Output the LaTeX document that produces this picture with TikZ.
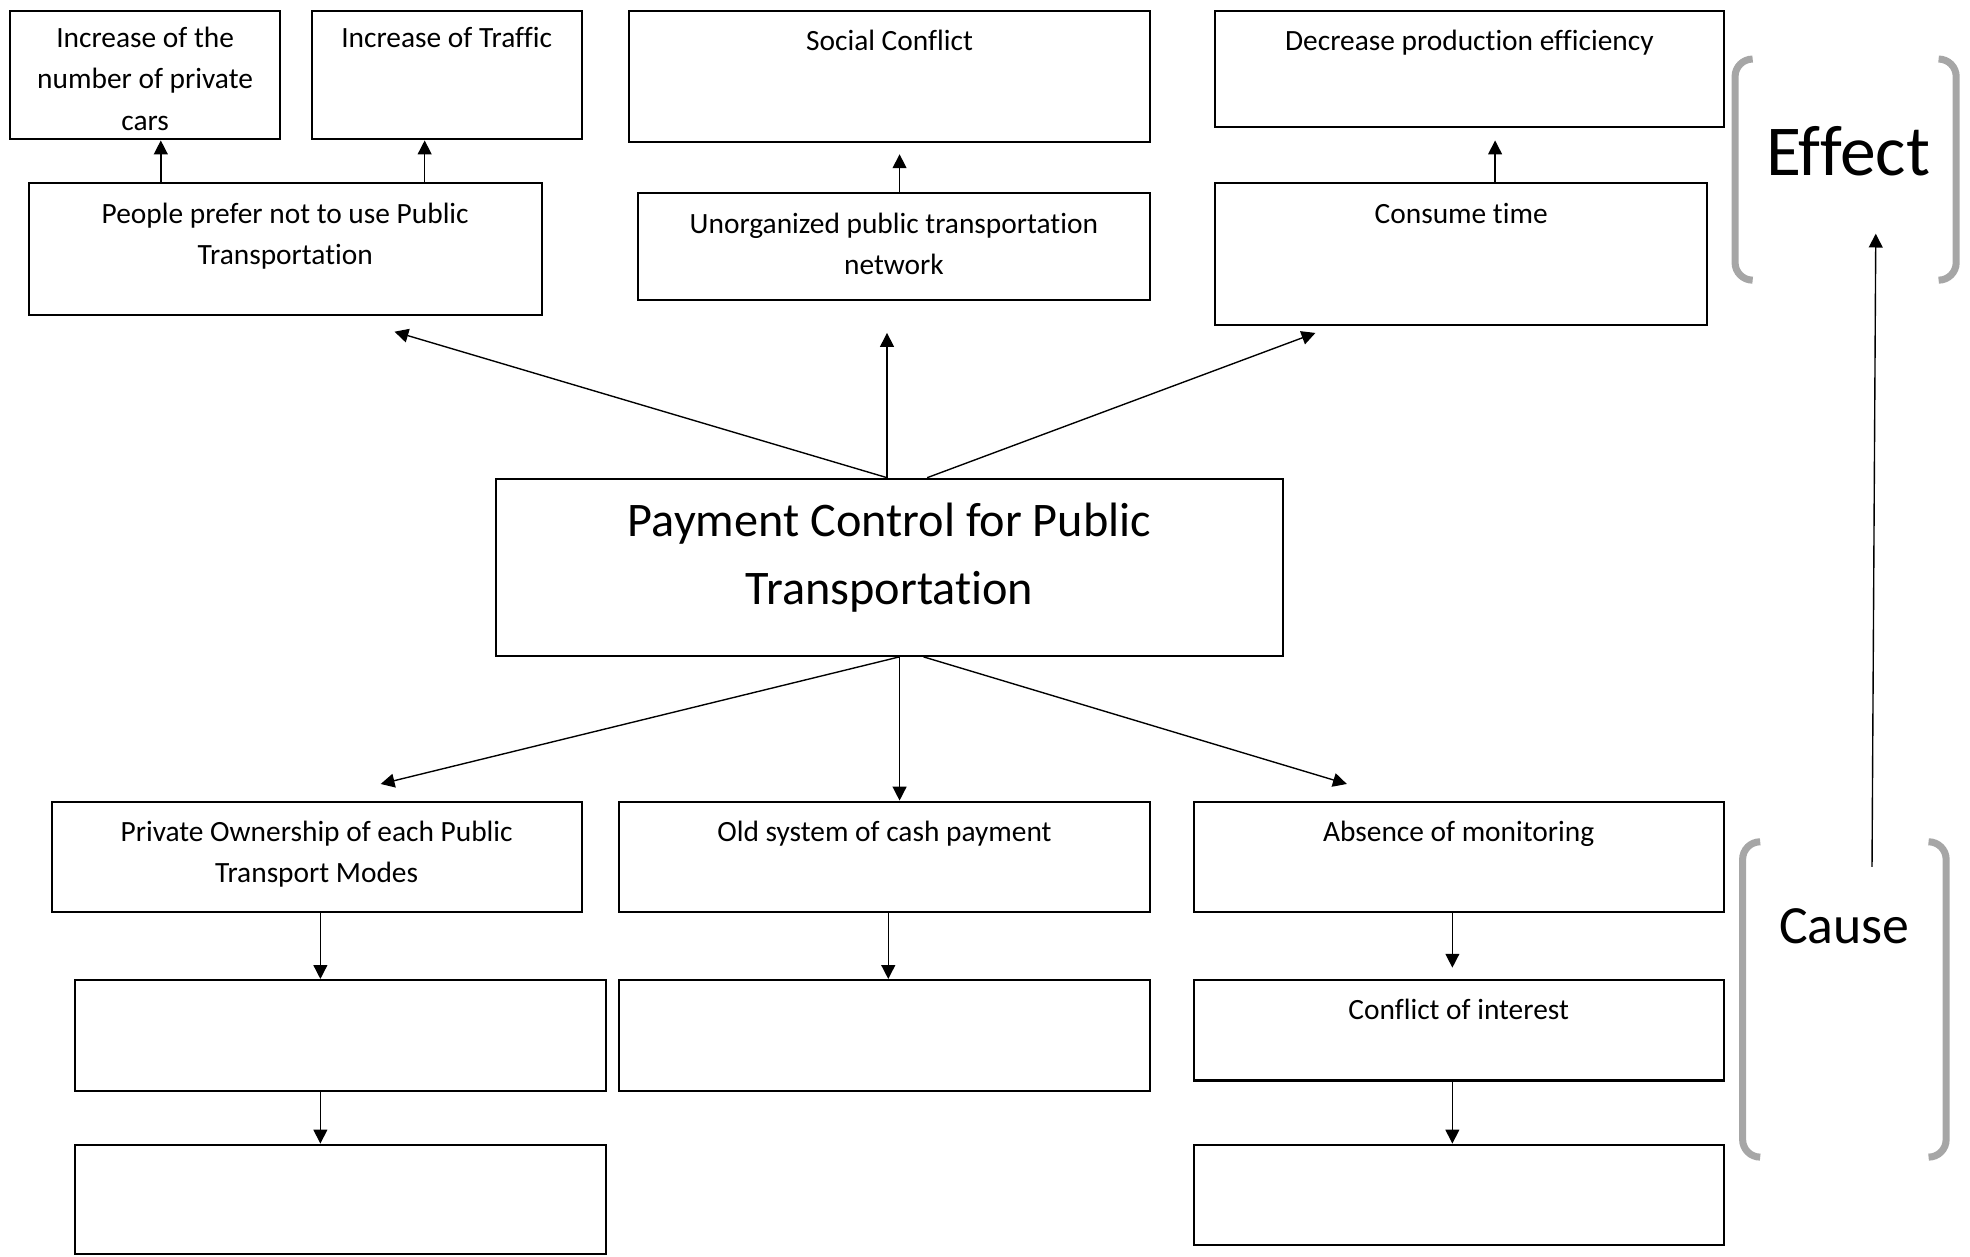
\documentclass[tikz,border=0pt]{standalone}
\usepackage{fontspec}
\setmainfont{Carlito}[Ligatures=NoCommon]
\usetikzlibrary{arrows.meta,fit}

\tikzset{
  box/.style={draw, line width=0.8pt, inner sep=0pt},
  txt/.style={inner sep=0pt, align=center, anchor=north,
    font=\fontsize{11.7}{16.5}\selectfont},
  conn/.style={-{Triangle[length=5.5pt,width=5.5pt]}, line width=0.55pt},
  bracket/.style={draw=black!35, line width=2.8pt, rounded corners=7pt},
}

\begin{document}
\begin{tikzpicture}[x=0.5pt,y=-0.5pt]
\useasboundingbox (0,0) rectangle (1568,1000);

% ---- effect side (top) ----
\node[box, fit={(8,9) (223,111)}] (A) {};
\node[box, fit={(248,9) (463,111)}] (B) {};
\node[box, fit={(23,146) (431,251)}] (C) {};
\node[box, fit={(501,9) (915,113)}] (D) {};
\node[box, fit={(508,154) (915,239)}] (E) {};
\node[box, fit={(967,9) (1372,101)}] (F) {};
\node[box, fit={(967,146) (1359,259)}] (G) {};

\node[txt] (At) at (115.5,14) {\strut Increase of the\\number of private\\cars};
\node[txt] (Bt) at (355.5,14) {\strut Increase of Traffic};
\node[txt] (Ct) at (227,154) {\strut People prefer not to use Public\\Transportation};
\node[txt] (Dt) at (708,17) {\strut Social Conflict};
\node[txt] (Et) at (711.5,162) {\strut Unorganized public transportation\\network};
\node[txt] (Ft) at (1169.5,17) {\strut Decrease production efficiency};
\node[txt] (Gt) at (1163,154) {\strut Consume time};

% ---- core problem ----
\node[box, fit={(395,381) (1021,522)}] (H) {};
\node[txt, font=\fontsize{19.2}{27}\selectfont] (Ht) at (708,389)
  {\strut Payment Control for Public\\Transportation};

% ---- cause side (bottom) ----
\node[box, fit={(41,638) (463,726)}] (I) {};
\node[box, fit={(493,638) (915,726)}] (J) {};
\node[box, fit={(950,638) (1372,726)}] (K) {};
\node[box, fit={(60,780) (482,868)}] (L) {};
\node[box, fit={(493,780) (915,868)}] (M) {};
\node[box, fit={(950,780) (1372,860)}] (N) {};
\node[box, fit={(60,911) (482,998)}] (O) {};
\node[box, fit={(950,911) (1372,991)}] (P) {};

\node[txt] (It) at (252,646) {\strut Private Ownership of each Public\\Transport Modes};
\node[txt] (Jt) at (704,646) {\strut Old system of cash payment};
\node[txt] (Kt) at (1161,646) {\strut Absence of monitoring};
\node[txt] (Nt) at (1161,788) {\strut Conflict of interest};

% ---- connectors ----
\draw[conn] (C.north -| 128,0) -- (A.south -| 128,0);
\draw[conn] (C.north -| 338,0) -- (B.south -| 338,0);
\draw[conn, shorten >=4.5pt] (E.north -| 716,0) -- (D.south -| 716,0);
\draw[conn, shorten >=5pt] (G.north -| 1190,0) -- (F.south -| 1190,0);

\coordinate (upL) at (314,264);
\coordinate (upM) at (706,265);
\coordinate (upR) at (1047,265);
\draw[conn] (H.north -| 706,0) -- (upL);
\draw[conn] (H.north -| 706,0) -- (upM);
\draw[conn] (H.north -| 738,0) -- (upR);

\coordinate (dnL) at (303,624);
\coordinate (dnR) at (1072,624);
\draw[conn] (H.south -| 716,0) -- (dnL);
\draw[conn] (H.south -| 716,0) -- (J.north -| 716,0);
\draw[conn] (H.south -| 735,0) -- (dnR);

\draw[conn] (I.south -| 255,0) -- (L.north -| 255,0);
\draw[conn] (J.south -| 707,0) -- (M.north -| 707,0);
\draw[conn, shorten >=4.5pt] (K.south -| 1156,0) -- (N.north -| 1156,0);
\draw[conn] (L.south -| 255,0) -- (O.north -| 255,0);
\draw[conn] (N.south -| 1156,0) -- (P.north -| 1156,0);

% ---- cause / effect brackets ----
\draw[bracket] (1395,47) -- (1381,47) -- (1381,223) -- (1395,223);
\draw[bracket] (1543,47) -- (1557,47) -- (1557,223) -- (1543,223);
\node[anchor=base, inner sep=0pt, font=\fontsize{28.5}{32}\selectfont] (effect) at (1471,140) {Effect};

\draw[bracket] (1401,670) -- (1387,670) -- (1387,921) -- (1401,921);
\draw[bracket] (1535,670) -- (1549,670) -- (1549,921) -- (1535,921);
\node[anchor=base, inner sep=0pt, font=\fontsize{21.4}{24}\selectfont] (cause) at (1468,751) {Cause};

\coordinate (causeTop) at (1490,690);
\coordinate (effectBottom) at (1493,186);
\draw[conn] (causeTop) -- (effectBottom);
\end{tikzpicture}
\end{document}
